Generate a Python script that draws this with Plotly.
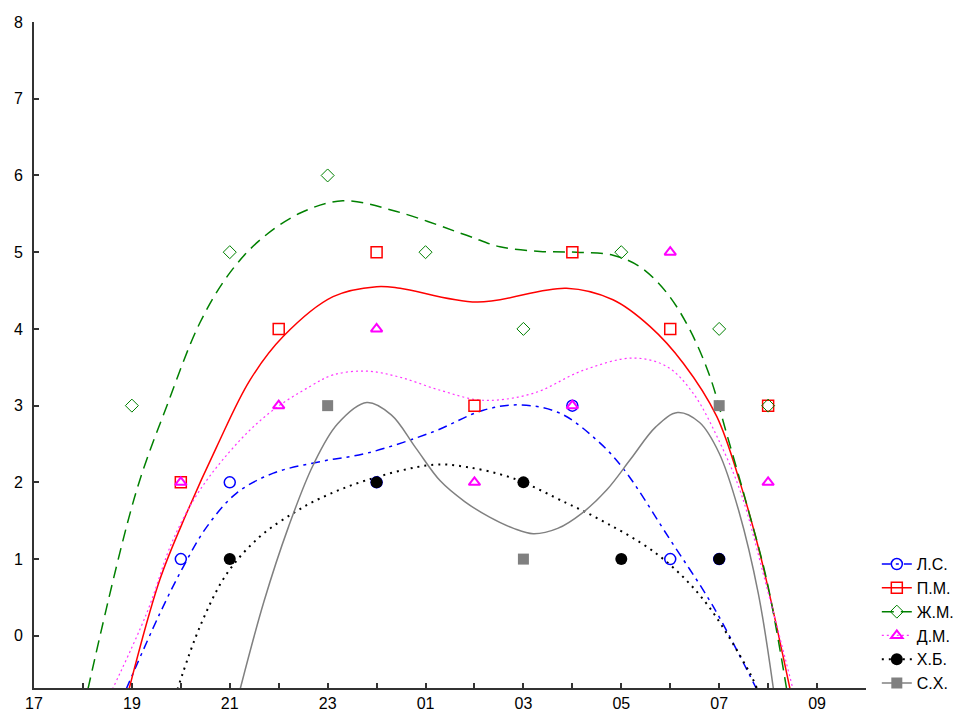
import plotly.graph_objects as go

# ---------- data (hours after 17:00 mapped continuously: 25 = 01, 33 = 09) ----------
names = ["Л.С.", "П.М.", "Ж.М.", "Д.М.", "Х.Б.", "С.Х."]

ls_x = [20, 21, 24, 28, 30, 31]
ls_y = [1, 2, 2, 3, 1, 1]
pm_x = [20, 22, 24, 26, 28, 30, 32]
pm_y = [2, 4, 5, 3, 5, 4, 3]
zm_x = [19, 21, 23, 25, 27, 29, 31, 32]
zm_y = [3, 5, 6, 5, 4, 5, 4, 3]
dm_x = [20, 22, 24, 26, 28, 30, 32]
dm_y = [2, 3, 4, 2, 3, 5, 2]
hb_x = [21, 24, 27, 29, 31]
hb_y = [1, 2, 2, 1, 1]
sh_x = [23, 27, 31]
sh_y = [3, 1, 3]

# fitted curves
ls_cx = [18.88, 19.57, 20.05, 20.53, 21.14, 21.89, 22.84, 23.8, 25.16, 26.18, 26.93, 27.75, 28.5, 29.04, 30.0, 30.88, 31.77]
ls_cy = [-0.70, 0.29, 0.90, 1.42, 1.86, 2.12, 2.27, 2.38, 2.66, 2.94, 3.01, 2.90, 2.55, 2.18, 1.25, 0.38, -0.70]
pm_cx = [18.94, 19.57, 20.12, 20.73, 21.41, 22.09, 23.11, 24.0, 24.48, 26.05, 27.88, 28.83, 29.59, 30.27, 30.95, 31.43, 31.83, 32.45]
pm_cy = [-0.70, 0.73, 1.60, 2.46, 3.33, 3.90, 4.42, 4.55, 4.53, 4.35, 4.53, 4.38, 4.03, 3.55, 2.86, 1.99, 1.08, -0.70]
zm_cx = [18.10, 19.08, 19.71, 20.39, 21.0, 21.62, 22.44, 23.31, 24.41, 25.84, 26.52, 27.34, 28.09, 28.83, 29.38, 29.93, 30.40, 30.81, 31.15, 31.56, 31.97, 32.38]
zm_cy = [-0.70, 1.86, 2.99, 4.08, 4.73, 5.16, 5.51, 5.67, 5.53, 5.22, 5.07, 5.01, 5.00, 4.96, 4.81, 4.47, 3.99, 3.38, 2.64, 1.72, 0.73, -0.70]
dm_cx = [18.60, 19.30, 19.84, 20.39, 21.21, 21.88, 22.64, 23.11, 23.8, 24.48, 25.3, 26.17, 27.2, 28.22, 29.24, 29.93, 30.47, 31.02, 31.45, 31.97, 32.51]
dm_cy = [-0.70, 0.29, 1.25, 1.90, 2.55, 2.94, 3.25, 3.40, 3.45, 3.37, 3.20, 3.07, 3.16, 3.46, 3.62, 3.51, 3.16, 2.51, 1.85, 0.64, -0.70]
hb_cx = [19.93, 20.39, 20.94, 21.61, 22.3, 22.84, 23.8, 25.16, 25.84, 26.80, 27.88, 28.43, 29.72, 30.68, 31.63, 31.78]
hb_cy = [-0.70, 0.12, 0.81, 1.29, 1.60, 1.79, 2.03, 2.23, 2.20, 2.05, 1.73, 1.56, 1.07, 0.47, -0.49, -0.70]
sh_cx = [21.21, 21.7, 22.2, 22.7, 23.2, 23.8, 24.3, 24.8, 25.3, 25.8, 26.3, 26.8, 27.2, 27.7, 28.2, 28.7, 29.2, 29.7, 30.15, 30.6, 31.0, 31.4, 31.8, 32.11]
sh_cy = [-0.70, 0.45, 1.42, 2.22, 2.76, 3.04, 2.88, 2.45, 2.02, 1.75, 1.55, 1.40, 1.33, 1.40, 1.60, 1.90, 2.31, 2.72, 2.91, 2.78, 2.38, 1.63, 0.55, -0.70]

x_tickvals = [17, 19, 21, 23, 25, 27, 29, 31, 33]
x_ticktext = ["17", "19", "21", "23", "01", "03", "05", "07", "09"]
y_tickvals = [0, 1, 2, 3, 4, 5, 6, 7, 8]

series = [
    (names[0], ls_x, ls_y, ls_cx, ls_cy, "#0000ff", "9px,5px,3px,5px", 1.5,
     dict(symbol="circle-open", size=11, color="#0000ff", line=dict(width=1.5))),
    (names[1], pm_x, pm_y, pm_cx, pm_cy, "#ff0000", "solid", 1.5,
     dict(symbol="square-open", size=11, color="#ff0000", line=dict(width=1.5))),
    (names[2], zm_x, zm_y, zm_cx, zm_cy, "#008000", "12px,7px", 1.5,
     dict(symbol="diamond-open", size=10, color="#008000", line=dict(width=1))),
    (names[3], dm_x, dm_y, dm_cx, dm_cy, "#ff33ff", "2px,3px", 1.2,
     dict(symbol="triangle-up-open", size=10, color="#ff00ff", line=dict(width=2))),
    (names[4], hb_x, hb_y, hb_cx, hb_cy, "#000000", "2px,5px", 2,
     dict(symbol="circle", size=12, color="#000000")),
    (names[5], sh_x, sh_y, sh_cx, sh_cy, "#808080", "solid", 1.5,
     dict(symbol="square", size=11, color="#808080")),
]

fig = go.Figure()
for name, px, py, cx, cy, col, dash, lw, mk in series:
    fig.add_trace(go.Scatter(x=cx, y=cy, mode="lines",
                             line=dict(color=col, dash=dash, width=lw, shape="spline", smoothing=1.0),
                             showlegend=False, hoverinfo="skip", cliponaxis=True))
for name, px, py, cx, cy, col, dash, lw, mk in series:
    fig.add_trace(go.Scatter(x=px, y=py, mode="markers", marker=mk, showlegend=False, name=name))
for name, px, py, cx, cy, col, dash, lw, mk in series:
    fig.add_trace(go.Scatter(x=[None], y=[None], mode="lines+markers", marker=mk,
                             line=dict(color=col, dash=dash, width=lw), name=name, showlegend=True))

axis_common = dict(showline=True, linecolor="#333333", linewidth=2, ticks="inside", ticklen=5,
                   tickcolor="#333333", tickwidth=1.5, showgrid=False, zeroline=False, automargin=False,
                   tickfont=dict(size=16, color="#000000"))
fig.update_xaxes(range=[17, 34], tickmode="array", tickvals=x_tickvals, ticktext=x_ticktext,
                 minor=dict(ticks="inside", dtick=1, tick0=17, ticklen=5, tickcolor="#333333", tickwidth=1.5),
                 **axis_common)
fig.update_yaxes(range=[-0.68, 8], tickmode="array", tickvals=y_tickvals, ticklabelstandoff=6, **axis_common)

fig.update_layout(
    width=962, height=718,
    margin=dict(l=34, r=96, t=22, b=30, autoexpand=False),
    plot_bgcolor="white", paper_bgcolor="white",
    font=dict(family="Liberation Sans, Arial, sans-serif", size=16, color="#000000"),
    legend=dict(x=1.013, y=0.2115, xanchor="left", yanchor="top", bgcolor="rgba(0,0,0,0)",
                font=dict(size=16), itemwidth=30, tracegroupgap=0),
)

# remove the page's default 8px body margin so the figure sits at the window's top-left corner
fig.write_html("out.html", config={"displayModeBar": False},
               post_script="document.body.style.margin='0';document.body.style.overflow='hidden';")
